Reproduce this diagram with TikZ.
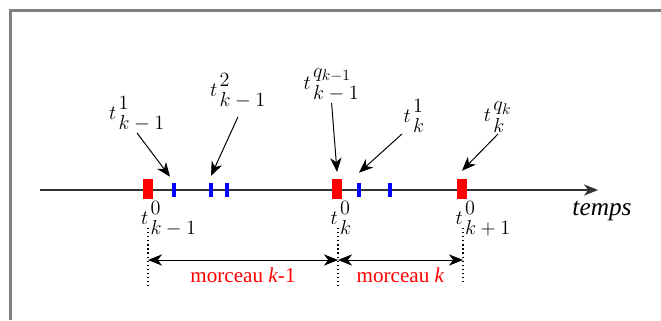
\documentclass[tikz,border=0pt]{standalone}
\usepackage{amsmath,amssymb}
\usepackage{xcolor}
\usepackage{fontspec}
\setmainfont{Liberation Serif}
\usetikzlibrary{arrows.meta, positioning, calc}

\newcommand{\tlab}[2]{$t\mkern2mu^{\raisebox{2pt}{$\textstyle #1$}}_{\raisebox{-3pt}{$\textstyle #2$}}$}

\begin{document}
\begin{tikzpicture}[
  frame/.style={draw=black!50, line width=1.6pt},
  axis/.style={-{Stealth[length=10pt, width=8pt, inset=3pt]},
    draw=black!80, line width=0.9pt},
  redblock/.style={rectangle, fill=red, inner sep=0pt,
    minimum width=0.25cm, minimum height=0.5cm},
  tickmark/.style={rectangle, fill=blue, inner sep=0pt,
    minimum width=2.4pt, minimum height=0.35cm},
  lab/.style={font=\fontsize{15}{18}\selectfont, inner sep=1pt},
  pointer/.style={-{Stealth[length=10pt, width=8pt, inset=3pt]},
    line width=0.7pt},
  span/.style={{Stealth[length=10pt, width=8pt, inset=3pt]}-{Stealth[length=10pt, width=8pt, inset=3pt]},
    line width=0.7pt},
  cut/.style={dotted, line width=0.9pt},
  part/.style={text=red, font=\fontsize{15}{18}\selectfont},
]

\useasboundingbox (0,0) rectangle (16.525,8);
\draw[frame] (0.2625,0) |- (16.525,7.7375);

% time axis
\coordinate (tstart) at (1.0,3.25);
\coordinate (tend) at (14.95,3.25);
\draw[axis] (tstart) -- (tend);
\node[font=\fontsize{18}{21}\selectfont\itshape] (temps) at (15.05,2.72) {temps};

% chunk starts
\foreach \n/\x in {0/3.6875, 1/8.425, 2/11.55}{
  \node[redblock] (r\n) at (\x,3.275) {};
}

% sample instants
\foreach \n/\x in {1/4.35, 2/5.275, 3/5.675, 4/8.975, 5/9.75}{
  \node[tickmark] (b\n) at (\x,3.25) {};
}

% labels above
\node[lab, anchor=south] (l1) at (3.425,4.675) {\tlab{1}{k-1}};
\node[lab, anchor=south] (l2) at (5.95,5.25) {\tlab{2}{k-1}};
\node[lab, anchor=south] (l3) at (8.29,5.425) {\tlab{q_{k-1}}{k-1}};
\node[lab, anchor=south west] (l4) at (10.05,4.65) {\tlab{1}{k}};
\node[lab, anchor=south] (l5) at (12.45,4.65) {\tlab{q_k}{k}};

\draw[pointer] (l1.south) -- ([shift={(-0.1,0.15)}]b1.north);
\draw[pointer] ([yshift=-0.17cm]l2.south) -- ([yshift=0.17cm]b2.north);
\draw[pointer] (l3.south) -- ([yshift=0.17cm]r1.north);
\draw[pointer] (l4.south west) -- ([yshift=0.25cm]b4.north);
\draw[pointer] (l5.south) -- ([yshift=0.2cm]r2.north);

% labels below
\node[lab, anchor=north west] (u0) at ([xshift=-2pt]r0.south west) {\tlab{0}{k-1}};
\node[lab, anchor=north west] (u1) at ([xshift=-2pt]r1.south west) {\tlab{0}{k}};
\node[lab, anchor=north west] (u2) at ([xshift=-2pt]r2.south west) {\tlab{0}{k+1}};

% chunks
\foreach \n/\x/\y in {0/3.7/0.775, 1/8.45/0.825, 2/11.575/0.925}{
  \coordinate (top\n) at (\x,2.3);
  \coordinate (bot\n) at (\x,\y);
  \coordinate (mid\n) at (\x,1.5);
  \draw[cut] (top\n) -- (bot\n);
}

\draw[span] (mid0) -- node[part, below=2pt] {morceau \textit{k}-1} (mid1);
\draw[span] (mid1) -- node[part, below=2pt] {morceau \textit{k}} (mid2);

\end{tikzpicture}
\end{document}
